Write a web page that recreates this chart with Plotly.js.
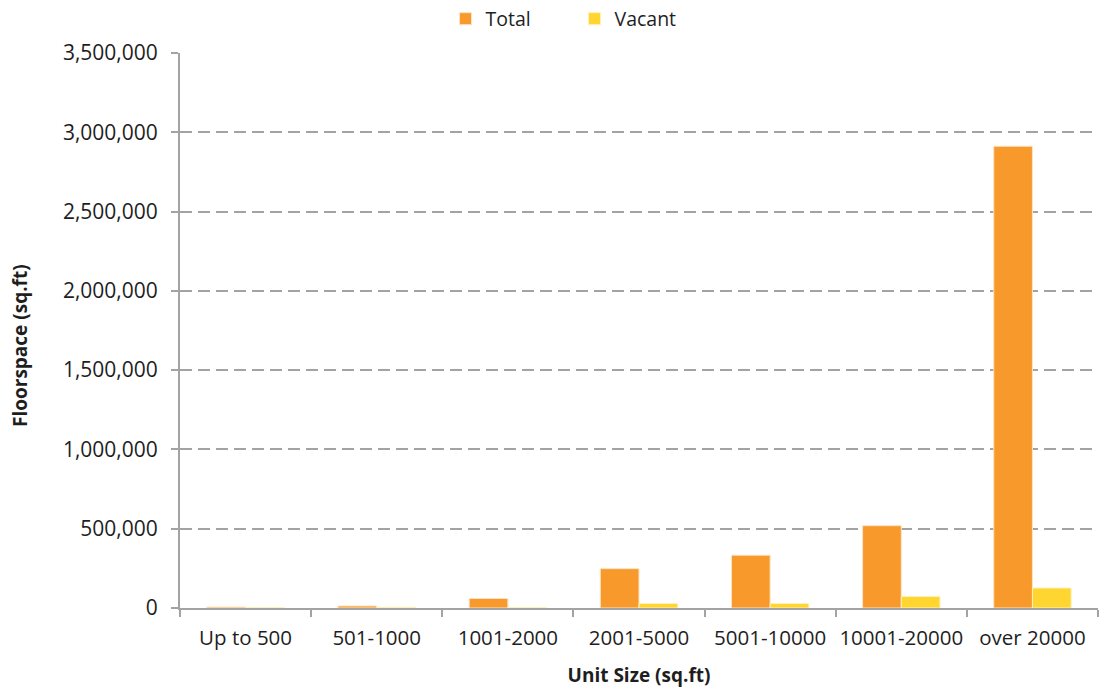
<!DOCTYPE html>
<html>
<head>
<meta charset="utf-8">
<script src="https://cdn.plot.ly/plotly-3.0.1.min.js"></script>
<style>html,body{margin:0;padding:0;background:#fff;}#chart{width:1100px;height:689px;}</style>
</head>
<body>
<div id="chart"></div>
<script>
// Floorspace by unit size band
const unitSizes = ['Up to 500', '501-1000', '1001-2000', '2001-5000', '5001-10000', '10001-20000', 'over 20000'];
const totalFloorspace = [6000, 13000, 60000, 248000, 333000, 519000, 2912000];
const vacantFloorspace = [2000, 4000, 3000, 28000, 28000, 72000, 126000];

const fontFamily = '"Open Sans", "Noto Sans", "Liberation Sans", sans-serif';
const textColor = '#1e1e1e';
const axisGrey = '#a3a3a3';

const traces = [
  {
    type: 'bar', name: 'Total', x: unitSizes, y: totalFloorspace,
    marker: {color: '#F7992B', line: {color: '#FDE3C4', width: 1}},
    hoverinfo: 'x+y'
  },
  {
    type: 'bar', name: 'Vacant', x: unitSizes, y: vacantFloorspace,
    marker: {color: '#FFD52F', line: {color: '#FFF1B8', width: 1}},
    hoverinfo: 'x+y'
  }
];

const layout = {
  width: 1100, height: 689,
  margin: {l: 180, r: 2, t: 53, b: 81, autoexpand: false},
  paper_bgcolor: '#fff', plot_bgcolor: '#fff',
  font: {family: fontFamily, size: 20, color: textColor},
  barmode: 'group', bargap: 0.41, bargroupgap: 0,
  showlegend: true,
  legend: {
    orientation: 'h', xref: 'container', yref: 'container',
    x: 0.405, xanchor: 'left', y: 1 - 19 / 689, yanchor: 'middle',
    font: {size: 19.5, color: textColor},
    itemwidth: 30, entrywidth: 84, entrywidthmode: 'pixels',
    traceorder: 'normal', bgcolor: 'rgba(0,0,0,0)'
  },
  xaxis: {
    type: 'category', tickson: 'boundaries', ticks: 'outside', ticklen: 7,
    tickcolor: axisGrey, tickwidth: 2, showline: true, linecolor: axisGrey, linewidth: 2,
    showgrid: false, tickangle: 0, tickfont: {size: 20.5, color: textColor}, ticklabelstandoff: 10,
    title: {text: 'Unit Size (sq.ft)', font: {size: 19, color: textColor, weight: 'bold'}, standoff: 19}
  },
  yaxis: {
    range: [0, 3500000], dtick: 500000, tickformat: ',d',
    ticks: 'outside', ticklen: 7, tickcolor: axisGrey, tickwidth: 2,
    showline: true, linecolor: axisGrey, linewidth: 2, ticklabelstandoff: 9,
    showgrid: true, gridcolor: axisGrey, griddash: '12px,6px', gridwidth: 2,
    zeroline: false, tickfont: {size: 21, color: textColor}
  },
  annotations: [{
    text: '<b>Floorspace (sq.ft)</b>', textangle: -90,
    xref: 'paper', yref: 'paper', x: (20 - 180) / 918, y: (608 - 346) / 555,
    xanchor: 'center', yanchor: 'middle', showarrow: false,
    font: {size: 19, color: textColor, family: fontFamily}
  }]
};

Plotly.newPlot('chart', traces, layout, {displayModeBar: false, staticPlot: true});
</script>
</body>
</html>
